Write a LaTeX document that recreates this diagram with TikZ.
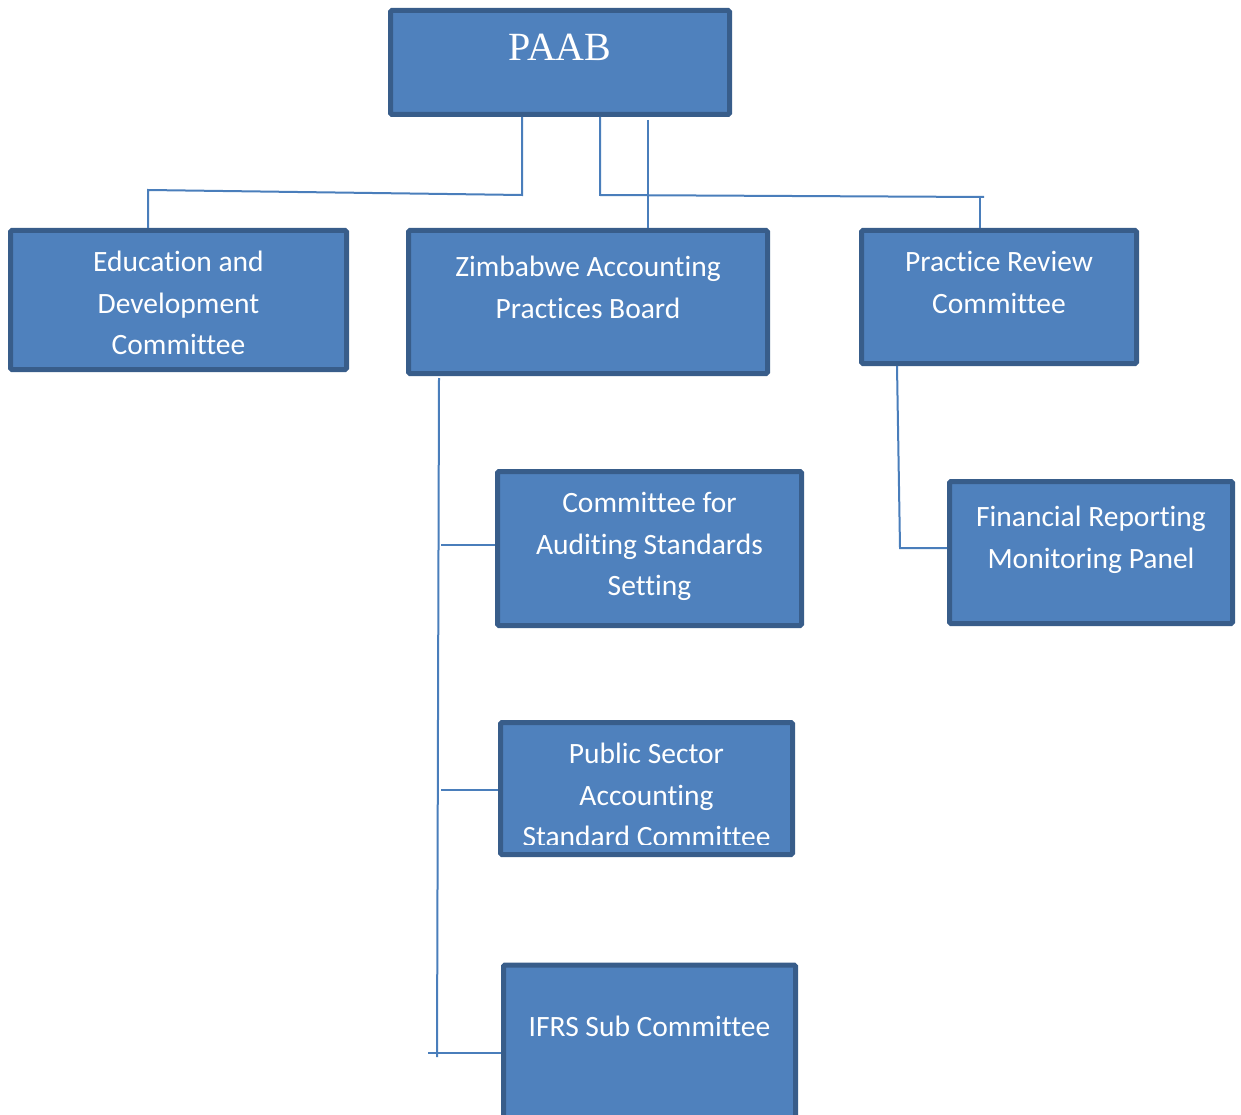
\documentclass[tikz,border=0pt]{standalone}
\usepackage{fontspec}
\setmainfont[Ligatures={CommonOff,ContextualOff}]{Carlito}
\newfontfamily\timesfont{Liberation Serif}
\definecolor{boxfill}{HTML}{4F81BD}
\definecolor{boxline}{HTML}{385D8A}
\definecolor{connline}{HTML}{4A7EBB}
\tikzset{
  orgbox/.style={draw=boxline, fill=boxfill, line width=5pt, rectangle, rounded corners=1.5pt, inner sep=0pt},
  boxtext/.style={text=white, align=center, anchor=base, inner sep=0pt, font=\fontsize{29.5}{41.3}\selectfont},
  conn/.style={draw=connline, line width=2pt}
}
\begin{document}
\begin{tikzpicture}[x=1pt,y=-1pt]
\useasboundingbox (0,0) rectangle (1241,1115);
\clip (0,0) rectangle (1241,1115);
% boxes (outer edges minus border)
\node[orgbox, minimum width=339pt, minimum height=104pt] (paab) at (560,62.5) {};
\node[orgbox, minimum width=336pt, minimum height=139pt] (edu) at (178.5,300) {};
\node[orgbox, minimum width=359pt, minimum height=143pt] (zab) at (588,302) {};
\node[orgbox, minimum width=275pt, minimum height=133pt] (prc) at (999,297) {};
\node[orgbox, minimum width=304pt, minimum height=154pt] (cas) at (649.5,548.5) {};
\node[orgbox, minimum width=283pt, minimum height=142pt] (frm) at (1091,552.5) {};
\node[orgbox, minimum width=292pt, minimum height=132pt] (psc) at (646.5,788.5) {};
\node[orgbox, minimum width=292pt, minimum height=170pt] (ifrs) at (649.5,1050) {};
% texts (anchor = baseline of last line)
\node[boxtext, font=\timesfont\fontsize{40}{48}\selectfont] (paabt) at (560,60.5) {PAAB};
\node[boxtext] (edut) at (178.5,354.4) {Education and\\Development\\Committee};
\node[boxtext] (zabt) at (588,318.1) {Zimbabwe Accounting\\Practices Board};
\node[boxtext] (prct) at (999,313.1) {Practice Review\\Committee};
\node[boxtext] (cast) at (649.5,595.4) {Committee for\\Auditing Standards\\Setting};
\node[boxtext] (frmt) at (1091,568.1) {Financial Reporting\\Monitoring Panel};
\begin{scope}
\clip (400,700) rectangle (820,844);
\node[boxtext] (psct) at (646.5,846.4) {Public Sector\\Accounting\\Standard Committee};
\end{scope}
\node[boxtext] (ifrst) at (649.5,1036.8) {IFRS Sub Committee};
% connector junctions
\coordinate (ja) at (522,195);
\coordinate (jb) at (148,190);
\coordinate (jc) at (600,195);
\coordinate (jd) at (984,197);
\coordinate (je) at (980,197);
\coordinate (jz) at (648,120);
\coordinate (vt) at (439,378);
\coordinate (vb) at (437,1057);
\coordinate (ha) at (441,545);
\coordinate (hb) at (441,790);
\coordinate (hc) at (428,1053);
\coordinate (pa) at (897,366);
\coordinate (pb) at (900,548);
% connectors
\draw[conn] (paab.south -| ja) -- (ja) -- (jb) -- (edu.north -| jb);
\draw[conn] (paab.south -| jc) -- (jc) -- (jd);
\draw[conn] (je) -- (prc.north -| je);
\draw[conn] (jz) -- (zab.north -| jz);
\draw[conn] (vt) -- (vb);
\draw[conn] (ha) -- (cas.west |- ha);
\draw[conn] (hb) -- (psc.west |- hb);
\draw[conn] (hc) -- (ifrs.west |- hc);
\draw[conn] (pa) -- (pb) -- (frm.west |- pb);
\end{tikzpicture}
\end{document}
